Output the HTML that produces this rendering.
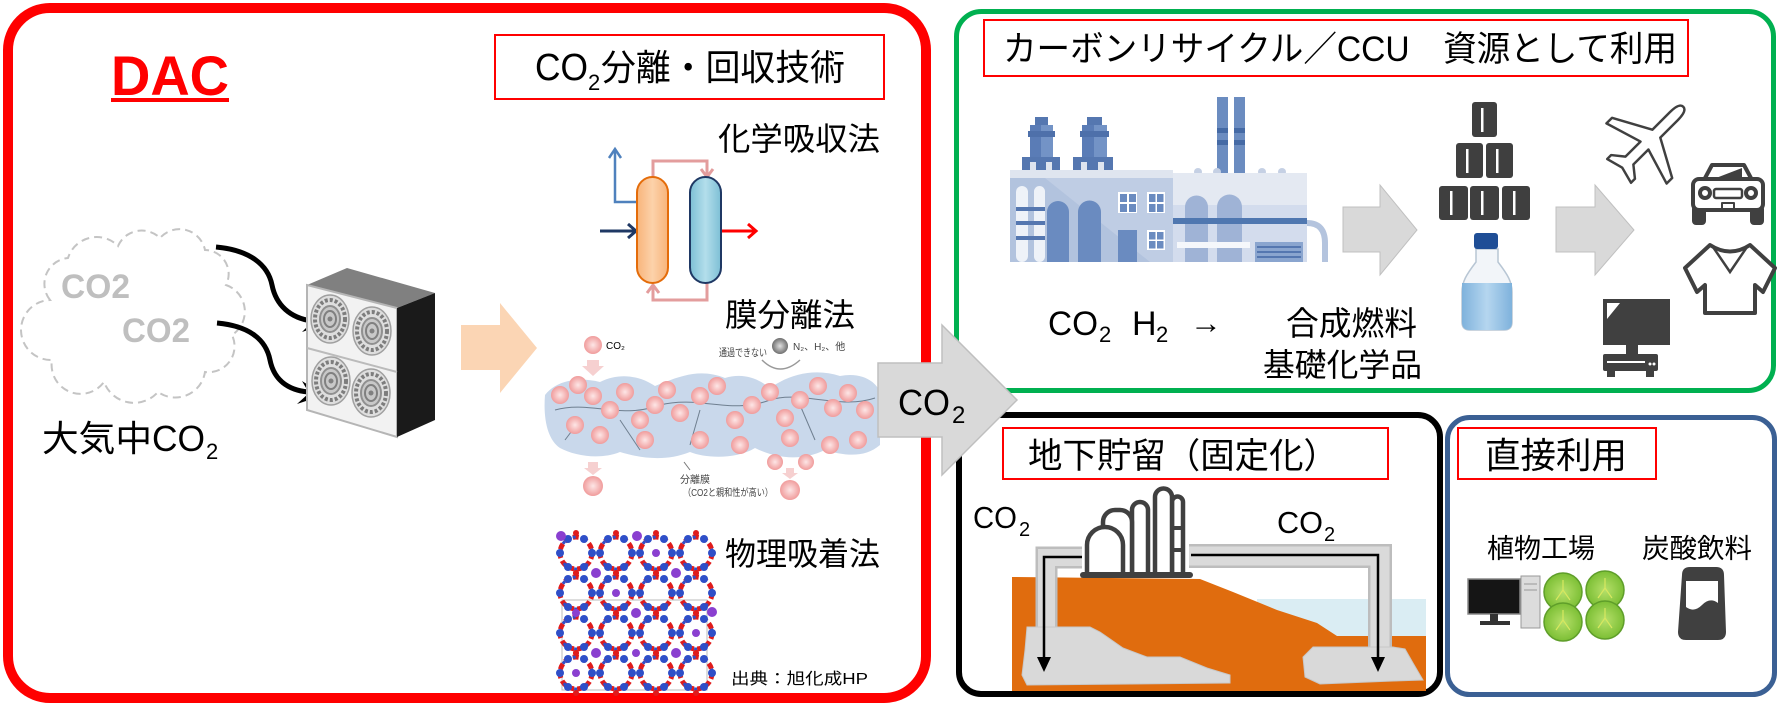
<!DOCTYPE html>
<html><head><meta charset="utf-8">
<style>
html,body{margin:0;padding:0;background:#fff;width:1791px;height:713px;overflow:hidden;}
svg{display:block;}
text{font-family:"Liberation Sans","Noto Sans CJK JP",sans-serif;fill:#000;}
</style></head><body>
<svg width="1791" height="713" viewBox="0 0 1791 713" xmlns="http://www.w3.org/2000/svg">
<defs>
 <linearGradient id="og" x1="0" x2="1"><stop offset="0" stop-color="#f8b47a"/><stop offset="0.5" stop-color="#fcd2aa"/><stop offset="1" stop-color="#f8b47a"/></linearGradient>
 <linearGradient id="bgc" x1="0" x2="1"><stop offset="0" stop-color="#7dbfd5"/><stop offset="0.5" stop-color="#b3deeb"/><stop offset="1" stop-color="#7dbfd5"/></linearGradient>
 <radialGradient id="pk"><stop offset="0" stop-color="#fde6e6"/><stop offset="1" stop-color="#f09c9c"/></radialGradient>
 <radialGradient id="gyb"><stop offset="0" stop-color="#e0e0e0"/><stop offset="1" stop-color="#6f6f6f"/></radialGradient>
 <radialGradient id="let"><stop offset="0" stop-color="#b6e06a"/><stop offset="1" stop-color="#7cbf35"/></radialGradient>
 <linearGradient id="liq" x1="0" x2="1"><stop offset="0" stop-color="#7fb2dc"/><stop offset="0.5" stop-color="#b5d6ef"/><stop offset="1" stop-color="#7fb2dc"/></linearGradient>
 <g id="fan">
  <ellipse rx="19" ry="24" fill="#dedede" stroke="#a0a0a0" stroke-width="1.5"/>
  <ellipse rx="15" ry="19" fill="none" stroke="#7d7d7d" stroke-width="4" stroke-dasharray="3 2"/>
  <ellipse rx="10" ry="13" fill="#c8c8c8" stroke="#909090" stroke-width="2"/>
  <ellipse rx="6" ry="8" fill="none" stroke="#808080" stroke-width="2"/>
  <circle r="2.5" fill="#808080"/>
 </g>
 <g id="ring">
  <circle r="16" fill="none" stroke="#e01b1b" stroke-width="5" stroke-dasharray="6 3"/>
  <circle r="16" fill="none" stroke="#2f4fc8" stroke-width="3" stroke-dasharray="3 9"/>
  <circle cx="16" cy="0" r="4" fill="#2f4fc8"/>
  <circle cx="8" cy="14" r="4" fill="#2f4fc8"/>
  <circle cx="-8" cy="14" r="4" fill="#2f4fc8"/>
  <circle cx="-16" cy="0" r="4" fill="#2f4fc8"/>
  <circle cx="-8" cy="-14" r="4" fill="#2f4fc8"/>
  <circle cx="8" cy="-14" r="4" fill="#2f4fc8"/>
  <circle cx="0" cy="-20" r="3" fill="#e01b1b"/>
  <circle cx="0" cy="20" r="3" fill="#e01b1b"/>
 </g>
</defs>

<!-- ===== DAC red box ===== -->
<rect x="8" y="8" width="918" height="690" rx="42" fill="#fff" stroke="#ff0000" stroke-width="10"/>

<text x="111" y="95" font-size="56" font-weight="bold" textLength="118" lengthAdjust="spacingAndGlyphs" style="fill:#ff0000">DAC</text>
<rect x="111" y="98" width="118" height="4" fill="#ff0000"/>

<!-- title CO2分離・回収技術 -->
<rect x="495" y="35" width="389" height="64" fill="#fff" stroke="#ff0000" stroke-width="2"/>
<text x="535" y="80" font-size="38" textLength="53" lengthAdjust="spacingAndGlyphs">CO</text>
<text x="588" y="90" font-size="22">2</text>
<text x="601" y="80" font-size="36" textLength="244" lengthAdjust="spacingAndGlyphs">分離・回収技術</text>

<!-- cloud -->
<path d="M50,300 A26 26 0 0 1 68,258 A30 30 0 0 1 118,246 A26 26 0 0 1 160,238 A26 26 0 0 1 205,250 A24 24 0 0 1 226,285 A28 28 0 0 1 232,335 A26 26 0 0 1 205,372 A30 30 0 0 1 158,392 A32 32 0 0 1 104,382 A29 29 0 0 1 52,360 A30 30 0 0 1 50,300 Z" fill="none" stroke="#c4c4c4" stroke-width="2" stroke-dasharray="8 5"/>
<text x="61" y="298" font-size="34" font-weight="bold" textLength="69" lengthAdjust="spacingAndGlyphs" style="fill:#bfbfbf">CO2</text>
<text x="122" y="342" font-size="34" font-weight="bold" textLength="68" lengthAdjust="spacingAndGlyphs" style="fill:#bfbfbf">CO2</text>

<!-- curved arrows -->
<path d="M216,247 C250,250 268,265 272,285 C276,305 290,318 312,321" fill="none" stroke="#000" stroke-width="5"/>
<polygon points="329,323 306,309 313,321 302,332" fill="#000"/>
<path d="M217,323 C250,326 266,340 270,360 C274,380 288,390 308,392" fill="none" stroke="#000" stroke-width="5"/>
<polygon points="324,395 302,381 309,393 297,404" fill="#000"/>

<!-- DAC unit -->
<polygon points="307,285 347,268 435,293 397,308" fill="#808080"/>
<polygon points="307,285 397,308 397,437 307,410" fill="#f2f2f2" stroke="#b5b5b5" stroke-width="2"/>
<polygon points="397,308 435,293 435,420 397,437" fill="#1a1a1a"/>
<line x1="307" y1="348" x2="397" y2="372" stroke="#bbb" stroke-width="2"/>
<use href="#fan" x="330" y="319"/>
<use href="#fan" x="372" y="331"/>
<use href="#fan" x="331" y="381"/>
<use href="#fan" x="371" y="393"/>

<text x="42" y="451" font-size="36" textLength="110" lengthAdjust="spacingAndGlyphs">大気中</text>
<text x="152" y="451" font-size="36" textLength="53" lengthAdjust="spacingAndGlyphs">CO</text>
<text x="206" y="459" font-size="22">2</text>

<!-- peach arrow -->
<polygon points="461,325 500,325 500,303 537,348 500,393 500,370 461,370" fill="#fbd5b4"/>

<!-- chemical absorption -->
<text x="718" y="150" font-size="32" textLength="162" lengthAdjust="spacingAndGlyphs">化学吸収法</text>
<polyline points="653,177 653,161 707,161 707,176" fill="none" stroke="#e39d9d" stroke-width="3"/>
<polyline points="701,169 707,177 713,169" fill="none" stroke="#e39d9d" stroke-width="3"/>
<polyline points="707,283 707,300 653,300 653,286" fill="none" stroke="#e39d9d" stroke-width="3"/>
<polyline points="647,293 653,285 659,293" fill="none" stroke="#e39d9d" stroke-width="3"/>
<polyline points="638,202 615,202 615,150" fill="none" stroke="#4f81bd" stroke-width="2.5"/>
<polyline points="609,158 615,149 621,158" fill="none" stroke="#4f81bd" stroke-width="2.5"/>
<line x1="600" y1="231" x2="636" y2="231" stroke="#1f3864" stroke-width="3"/>
<polyline points="628,224 636,231 628,238" fill="none" stroke="#1f3864" stroke-width="3"/>
<line x1="721" y1="231" x2="756" y2="231" stroke="#ff0000" stroke-width="3"/>
<polyline points="748,224 756,231 748,238" fill="none" stroke="#ff0000" stroke-width="3"/>
<rect x="637" y="177" width="31" height="106" rx="15.5" fill="url(#og)" stroke="#e46c0a" stroke-width="2"/>
<rect x="690" y="177" width="31" height="106" rx="15.5" fill="url(#bgc)" stroke="#1f3864" stroke-width="2"/>

<!-- membrane -->
<text x="725" y="326" font-size="32" textLength="130" lengthAdjust="spacingAndGlyphs">膜分離法</text>
<circle cx="593" cy="345" r="9" fill="url(#pk)"/>
<text x="606" y="349" font-size="10">CO₂</text>
<polygon points="587,360 599,360 599,366 604,366 593,376 582,366 587,366" fill="#f6d0d0"/>
<text x="719" y="356" font-size="10.5" textLength="48" lengthAdjust="spacingAndGlyphs" style="fill:#444">通過できない</text>
<circle cx="780" cy="346" r="8" fill="url(#gyb)"/>
<text x="793" y="350" font-size="10" style="fill:#444">N₂、H₂、他</text>
<path d="M762,360 Q780,378 800,360" fill="none" stroke="#999" stroke-width="1.5"/>
<path d="M545,395 C555,382 575,376 600,382 C620,372 640,376 655,386 C680,376 700,368 725,378 C745,372 760,380 770,388 C790,374 815,368 840,376 C860,372 875,380 880,392 L880,445 C865,458 845,456 825,450 C800,462 775,458 755,448 C735,460 705,458 690,452 C665,462 640,458 620,452 C600,460 575,456 560,448 C548,440 543,420 545,395 Z" fill="#c9d8eb"/>
<g fill="none" stroke="#6f7f90" stroke-width="1">
<path d="M555,410 C590,400 620,420 660,405"/><path d="M660,405 C700,395 730,415 770,400"/><path d="M770,400 C800,390 840,410 875,398"/>
<path d="M620,420 L640,450"/><path d="M700,410 L690,445"/><path d="M800,405 L815,440"/><path d="M580,420 L565,440"/>
</g>
<g fill="url(#pk)">
<circle cx="560" cy="395" r="9"/><circle cx="578" cy="385" r="9"/><circle cx="593" cy="396" r="9"/><circle cx="610" cy="410" r="9"/>
<circle cx="625" cy="392" r="9"/><circle cx="640" cy="420" r="9"/><circle cx="655" cy="405" r="9"/><circle cx="667" cy="390" r="9"/>
<circle cx="680" cy="413" r="9"/><circle cx="700" cy="396" r="9"/><circle cx="717" cy="386" r="9"/><circle cx="735" cy="420" r="9"/>
<circle cx="752" cy="405" r="9"/><circle cx="770" cy="392" r="9"/><circle cx="785" cy="418" r="9"/><circle cx="800" cy="400" r="9"/>
<circle cx="818" cy="386" r="9"/><circle cx="833" cy="408" r="9"/><circle cx="848" cy="393" r="9"/><circle cx="865" cy="410" r="9"/>
<circle cx="600" cy="435" r="9"/><circle cx="645" cy="440" r="9"/><circle cx="700" cy="440" r="9"/><circle cx="740" cy="445" r="9"/>
<circle cx="790" cy="438" r="9"/><circle cx="830" cy="445" r="9"/><circle cx="858" cy="440" r="9"/><circle cx="575" cy="425" r="9"/>
<circle cx="593" cy="486" r="10"/><circle cx="775" cy="462" r="8"/><circle cx="806" cy="462" r="8"/><circle cx="790" cy="490" r="10"/>
</g>
<polygon points="588,462 598,462 598,468 602,468 593,475 584,468 588,468" fill="#f6d0d0"/>
<polygon points="786,468 794,468 794,473 798,473 790,479 782,473 786,473" fill="#f6d0d0"/>
<line x1="690" y1="470" x2="684" y2="462" stroke="#777" stroke-width="1"/>
<text x="680" y="483" font-size="10" style="fill:#444">分離膜</text>
<text x="683" y="496" font-size="10" textLength="90" lengthAdjust="spacingAndGlyphs" style="fill:#444">（CO2と親和性が高い）</text>

<!-- MOF -->
<text x="725" y="565" font-size="32" textLength="155" lengthAdjust="spacingAndGlyphs">物理吸着法</text>
<rect x="562" y="600" width="145" height="90" fill="none" stroke="#bbb" stroke-width="1"/>
<use href="#ring" x="576" y="553"/><use href="#ring" x="616" y="553"/><use href="#ring" x="656" y="553"/><use href="#ring" x="696" y="553"/>
<use href="#ring" x="576" y="593"/><use href="#ring" x="616" y="593"/><use href="#ring" x="656" y="593"/><use href="#ring" x="696" y="593"/>
<use href="#ring" x="576" y="633"/><use href="#ring" x="616" y="633"/><use href="#ring" x="656" y="633"/><use href="#ring" x="696" y="633"/>
<use href="#ring" x="576" y="673"/><use href="#ring" x="616" y="673"/><use href="#ring" x="656" y="673"/><use href="#ring" x="696" y="673"/>
<g fill="#8a3fd0">
<circle cx="596" cy="573" r="5"/><circle cx="636" cy="613" r="5"/><circle cx="676" cy="573" r="5"/><circle cx="596" cy="653" r="5"/>
<circle cx="676" cy="653" r="5"/><circle cx="561" cy="536" r="5"/><circle cx="637" cy="536" r="5"/><circle cx="712" cy="612" r="5"/>
<circle cx="616" cy="593" r="4"/><circle cx="696" cy="633" r="4"/><circle cx="576" cy="673" r="4"/><circle cx="636" cy="653" r="4"/>
<circle cx="656" cy="553" r="4"/><circle cx="576" cy="613" r="4"/>
</g>
<text x="731" y="684" font-size="16" textLength="137" lengthAdjust="spacingAndGlyphs">出典：旭化成HP</text>

<!-- ===== green box ===== -->
<rect x="956.5" y="11.5" width="817" height="379" rx="25" fill="none" stroke="#00b050" stroke-width="5"/>
<rect x="984" y="20" width="704" height="56" fill="#fff" stroke="#ff0000" stroke-width="2"/>
<text x="1003" y="61" font-size="35" textLength="674" lengthAdjust="spacingAndGlyphs">カーボンリサイクル／CCU　資源として利用</text>

<!-- factory -->
<g>
<rect x="1022" y="157" width="38" height="13" fill="#5577b0"/>
<rect x="1030" y="162" width="6" height="8" fill="#dfe5ef"/><rect x="1046" y="162" width="6" height="8" fill="#dfe5ef"/>
<rect x="1030" y="125" width="23" height="32" fill="#7393c6"/><rect x="1030" y="125" width="11" height="32" fill="#5a7cb6"/>
<rect x="1028" y="131" width="27" height="6" fill="#4e70aa"/>
<rect x="1035" y="117" width="13" height="8" fill="#5577b0"/>
<rect x="1073" y="157" width="40" height="13" fill="#5577b0"/>
<rect x="1081" y="162" width="6" height="8" fill="#dfe5ef"/><rect x="1098" y="162" width="6" height="8" fill="#dfe5ef"/>
<rect x="1082" y="125" width="25" height="32" fill="#7393c6"/><rect x="1082" y="125" width="12" height="32" fill="#5a7cb6"/>
<rect x="1080" y="131" width="29" height="6" fill="#4e70aa"/>
<rect x="1087" y="117" width="15" height="8" fill="#5577b0"/>
<rect x="1217" y="97" width="11" height="76" fill="#6b8cc0"/><rect x="1234" y="97" width="11" height="76" fill="#6b8cc0"/>
<rect x="1217" y="128" width="11" height="5" fill="#456aa5"/><rect x="1234" y="128" width="11" height="5" fill="#456aa5"/>
<rect x="1217" y="140" width="11" height="5" fill="#456aa5"/><rect x="1234" y="140" width="11" height="5" fill="#456aa5"/>
<circle cx="1198" cy="172" r="4" fill="#c5d0e4"/><circle cx="1217" cy="172" r="4" fill="#c5d0e4"/><circle cx="1262" cy="172" r="4" fill="#c5d0e4"/><circle cx="1282" cy="172" r="4" fill="#c5d0e4"/>
<rect x="1173" y="173" width="134" height="89" fill="#d3dced"/>
<rect x="1173" y="173" width="134" height="32" fill="#e4e9f2"/>
<rect x="1010" y="170" width="163" height="8" fill="#dfe5ef"/>
<rect x="1010" y="178" width="163" height="84" fill="#b2c3de"/>
<polygon points="1045,178 1173,178 1173,262 1150,262" fill="#bfcde4"/>
<rect x="1016" y="186" width="12" height="76" rx="6" fill="#eef2f8"/><rect x="1034" y="186" width="11" height="76" rx="5.5" fill="#eef2f8"/>
<rect x="1016" y="207" width="29" height="4" fill="#5577b0"/><rect x="1016" y="221" width="29" height="4" fill="#5577b0"/><rect x="1016" y="236" width="29" height="4" fill="#5577b0"/>
<path d="M1047,262 V212 A11,11 0 0 1 1069,212 V262 Z" fill="#6a8bc0"/>
<path d="M1078,262 V212 A11.5,11.5 0 0 1 1101,212 V262 Z" fill="#6a8bc0"/>
<rect x="1118" y="192" width="19" height="21" fill="#fff"/><rect x="1147" y="192" width="18" height="21" fill="#fff"/><rect x="1147" y="230" width="18" height="20" fill="#fff"/>
<g fill="#6a8bc0">
<rect x="1120" y="194" width="7" height="8"/><rect x="1129" y="194" width="7" height="8"/><rect x="1120" y="204" width="7" height="8"/><rect x="1129" y="204" width="7" height="8"/>
<rect x="1149" y="194" width="6.5" height="8"/><rect x="1157" y="194" width="6.5" height="8"/><rect x="1149" y="204" width="6.5" height="8"/><rect x="1157" y="204" width="6.5" height="8"/>
<rect x="1149" y="232" width="6.5" height="7.5"/><rect x="1157" y="232" width="6.5" height="7.5"/><rect x="1149" y="241" width="6.5" height="7.5"/><rect x="1157" y="241" width="6.5" height="7.5"/>
</g>
<rect x="1118" y="230" width="19" height="32" fill="#6a8bc0"/>
<path d="M1185,262 V207 A11.5,11.5 0 0 1 1208,207 V262 Z" fill="#9fb3d6"/>
<path d="M1217,262 V207 A12.5,12.5 0 0 1 1242,207 V262 Z" fill="#9fb3d6"/>
<rect x="1173" y="218" width="134" height="6" fill="#4f77b0"/>
<rect x="1177" y="242" width="73" height="6" fill="#f5f7fb"/>
<rect x="1255" y="242" width="48" height="20" fill="#8aa5cf"/>
<g stroke="#5577b0" stroke-width="2"><line x1="1257" y1="247" x2="1301" y2="247"/><line x1="1257" y1="252" x2="1301" y2="252"/><line x1="1257" y1="257" x2="1301" y2="257"/></g>
<path d="M1307,223 Q1325,223 1325,243 V262" fill="none" stroke="#b4c4de" stroke-width="6"/>
</g>

<!-- grey arrows -->
<polygon points="1343,207 1380,207 1380,185 1417,230 1380,275 1380,252 1343,252" fill="#d9d9d9" stroke="#c0c0c0" stroke-width="1"/>
<polygon points="1556,207 1595,207 1595,185 1634,230 1595,275 1595,252 1556,252" fill="#d9d9d9" stroke="#c0c0c0" stroke-width="1"/>

<!-- barrels -->
<g fill="#3f3f3f">
<rect x="1472" y="102" width="25" height="35" rx="3"/>
<rect x="1456" y="143" width="27" height="35" rx="3"/><rect x="1486" y="143" width="27" height="35" rx="3"/>
<rect x="1439" y="186" width="29" height="34" rx="3"/><rect x="1470" y="186" width="29" height="34" rx="3"/><rect x="1502" y="186" width="28" height="34" rx="3"/>
</g>
<g fill="#fff">
<rect x="1481" y="108" width="2.5" height="24"/>
<rect x="1466" y="149" width="2.5" height="24"/><rect x="1496" y="149" width="2.5" height="24"/>
<rect x="1450" y="191" width="2.5" height="24"/><rect x="1481" y="191" width="2.5" height="24"/><rect x="1513" y="191" width="2.5" height="24"/>
</g>

<!-- bottle -->
<path d="M1476,249 L1476,262 C1466,275 1462,282 1462,292 L1462,322 Q1462,330 1470,330 L1504,330 Q1512,330 1512,322 L1512,292 C1512,282 1508,275 1498,262 L1498,249 Z" fill="#f2f5f9" stroke="#b8c6d4" stroke-width="1.5"/>
<path d="M1462,283 L1512,283 L1512,322 Q1512,330 1504,330 L1470,330 Q1462,330 1462,322 Z" fill="url(#liq)"/>
<rect x="1474" y="233" width="24" height="16" rx="3" fill="#1f4e96"/>

<!-- plane -->
<path transform="translate(1650,140) rotate(45) scale(1.12)" d="M0,-42 C4,-42 5,-36 5,-30 L5,-8 L38,10 L38,17 L5,7 L5,26 L15,34 L15,39 L0,35 L-15,39 L-15,34 L-5,26 L-5,7 L-38,17 L-38,10 L-5,-8 L-5,-30 C-5,-36 -4,-42 0,-42 Z" fill="#fff" stroke="#404040" stroke-width="2.2" stroke-linejoin="round"/>
<!-- car -->
<g stroke="#404040" stroke-width="4" fill="#fff" stroke-linejoin="round">
<rect x="1694" y="207" width="10" height="16" rx="2" fill="#404040"/><rect x="1752" y="207" width="10" height="16" rx="2" fill="#404040"/>
<path d="M1704,180 L1712,165 L1744,165 L1752,180 Z"/>
<rect x="1693" y="179" width="70" height="31" rx="6"/>
<circle cx="1705" cy="193" r="5"/><circle cx="1751" cy="193" r="5"/>
<rect x="1714" y="189" width="28" height="9" rx="2" stroke-width="2.5"/>
<rect x="1722" y="203" width="12" height="6" stroke-width="2"/>
</g>
<path d="M1716,178 L1742,168 L1742,178 Z" fill="#404040"/>
<!-- shirt -->
<path d="M1710,245 L1685,268 L1697,292 L1705,285 L1705,313 L1755,313 L1755,285 L1763,292 L1775,268 L1750,245 Q1730,258 1710,245 Z" fill="#fff" stroke="#404040" stroke-width="4" stroke-linejoin="round"/>
<path d="M1713,247 L1730,272 L1747,247" fill="none" stroke="#404040" stroke-width="2.5"/>
<!-- monitor -->
<rect x="1603" y="299" width="67" height="46" fill="#404040"/>
<polygon points="1607,303 1620,303 1607,319" fill="#fff"/>
<rect x="1626" y="345" width="12" height="9" fill="#404040"/>
<rect x="1603" y="354" width="55" height="17" rx="2" fill="#404040"/>
<rect x="1607" y="361" width="38" height="2" fill="#fff"/><circle cx="1650" cy="364" r="1.5" fill="#fff"/><circle cx="1654" cy="364" r="1.5" fill="#fff"/>
<rect x="1607" y="371" width="8" height="6" fill="#404040"/><rect x="1646" y="371" width="8" height="6" fill="#404040"/>

<text x="1048" y="335" font-size="34" textLength="50" lengthAdjust="spacingAndGlyphs">CO</text>
<text x="1099" y="342" font-size="22">2</text>
<text x="1132" y="335" font-size="34">H</text>
<text x="1156" y="342" font-size="22">2</text>
<text x="1190" y="333" font-size="30" textLength="32" lengthAdjust="spacingAndGlyphs">→</text>
<text x="1286" y="335" font-size="33" textLength="131" lengthAdjust="spacingAndGlyphs">合成燃料</text>
<text x="1263" y="376" font-size="32" textLength="159" lengthAdjust="spacingAndGlyphs">基礎化学品</text>

<!-- ===== black storage box ===== -->
<rect x="959" y="415" width="481" height="279" rx="22" fill="#fff" stroke="#000" stroke-width="6"/>
<rect x="1003" y="428" width="385" height="51" fill="#fff" stroke="#ff0000" stroke-width="2"/>
<text x="1028" y="468" font-size="35" textLength="310" lengthAdjust="spacingAndGlyphs">地下貯留（固定化）</text>

<text x="973" y="528" font-size="31" textLength="44" lengthAdjust="spacingAndGlyphs">CO</text>
<text x="1019" y="536" font-size="20">2</text>
<text x="1277" y="533" font-size="31" textLength="46" lengthAdjust="spacingAndGlyphs">CO</text>
<text x="1324" y="541" font-size="20">2</text>

<rect x="1257" y="599" width="169" height="37" fill="#daedf3"/>
<polygon points="1012,577 1200,579 1233,592 1277,610 1317,623 1337,636 1426,636 1426,691 1012,691" fill="#e06c0e"/>
<!-- pipes -->
<polyline points="1082,557.5 1046.5,557.5 1046.5,640" fill="none" stroke="#bdbdbd" stroke-width="22" stroke-linejoin="miter"/>
<polyline points="1082,557.5 1046.5,557.5 1046.5,640" fill="none" stroke="#dadada" stroke-width="17" stroke-linejoin="miter"/>
<polyline points="1189,556 1380,556 1380,650" fill="none" stroke="#bdbdbd" stroke-width="24" stroke-linejoin="miter"/>
<polyline points="1189,556 1380,556 1380,650" fill="none" stroke="#dadada" stroke-width="19" stroke-linejoin="miter"/>
<!-- reservoirs -->
<path d="M1027,627 L1090,627 L1100,632 L1123,648 L1147,657 L1180,657 L1207,668 L1230,675 L1230,683 L1027,685 L1022,675 L1025,650 Z" fill="#d9d9d9" stroke="#c8c8c8" stroke-width="1"/>
<path d="M1313,647 L1393,647 L1405,649 L1413,663 L1423,680 L1393,681 L1320,684 L1305,677 L1303,657 Z" fill="#d9d9d9" stroke="#c8c8c8" stroke-width="1"/>
<polyline points="1082,557 1044,557 1044,660" fill="none" stroke="#000" stroke-width="2.5"/>
<polygon points="1037,657 1051,657 1044,672" fill="#000"/>
<polyline points="1191,555 1378,555 1378,660" fill="none" stroke="#000" stroke-width="2.5"/>
<polygon points="1371,657 1385,657 1378,672" fill="#000"/>
<!-- tanks -->
<g fill="#fff" stroke="#404040" stroke-width="4.5">
<path d="M1172,576 V502 A5.5,5.5 0 0 1 1183,502 V576"/>
<path d="M1155,576 V497 A8.5,8.5 0 0 1 1172,497 V576"/>
<path d="M1132,576 V510 A8,8 0 0 1 1148,510 V576"/>
<path d="M1103,576 V522 A12,12 0 0 1 1115,510 H1120 A12,12 0 0 1 1132,522 V576"/>
<path d="M1087,576 V545 A18,18 0 0 1 1123,545 V576"/>
</g>
<line x1="1172" y1="528" x2="1183" y2="528" stroke="#404040" stroke-width="4"/>
<line x1="1172" y1="550" x2="1183" y2="550" stroke="#404040" stroke-width="4"/>
<rect x="1080" y="572" width="113" height="6" rx="3" fill="#404040"/>

<!-- ===== blue box ===== -->
<rect x="1447.5" y="417.5" width="327" height="277" rx="22" fill="#fff" stroke="#3b6094" stroke-width="5"/>
<rect x="1458" y="428" width="198" height="51" fill="#fff" stroke="#ff0000" stroke-width="2"/>
<text x="1485" y="468" font-size="36" textLength="142" lengthAdjust="spacingAndGlyphs">直接利用</text>
<text x="1487" y="558" font-size="27" textLength="108" lengthAdjust="spacingAndGlyphs">植物工場</text>
<text x="1642" y="558" font-size="27" textLength="110" lengthAdjust="spacingAndGlyphs">炭酸飲料</text>
<!-- computer -->
<rect x="1521" y="576" width="19" height="52" fill="#dcdcdc" stroke="#999" stroke-width="1"/>
<line x1="1524" y1="584" x2="1537" y2="584" stroke="#999"/><line x1="1524" y1="590" x2="1537" y2="590" stroke="#999"/>
<rect x="1468" y="579" width="52" height="35" fill="#151515" stroke="#888" stroke-width="1.5"/>
<rect x="1490" y="614" width="8" height="8" fill="#333"/>
<rect x="1480" y="621" width="30" height="4" fill="#333"/>
<!-- lettuce -->
<g stroke="#5f9e2a" stroke-width="1.5" fill="url(#let)">
<circle cx="1563" cy="592" r="19"/><circle cx="1605" cy="590" r="19"/>
<circle cx="1563" cy="622" r="19"/><circle cx="1605" cy="620" r="19"/>
</g>
<g stroke="#d8e860" stroke-width="1.2" fill="none">
<path d="M1556,600 L1563,590 L1570,600 M1563,590 V580"/><path d="M1598,598 L1605,588 L1612,598 M1605,588 V578"/>
<path d="M1556,630 L1563,620 L1570,630 M1563,620 V610"/><path d="M1598,628 L1605,618 L1612,628 M1605,618 V608"/>
</g>
<!-- can -->
<path d="M1682,575 Q1682,567 1690,567 L1716,567 Q1724,567 1724,575 L1726,632 Q1726,640 1718,640 L1686,640 Q1678,640 1678,632 Z" fill="#404040"/>
<path d="M1686,581 L1718,581 L1718,603 Q1710,597 1702,605 Q1694,613 1686,607 Z" fill="#fff"/>

<!-- big CO2 arrow (on top) -->
<polygon points="878,363 942,363 942,325 1017,400 942,475 942,437 878,437" fill="#d9d9d9" stroke="#bfbfbf" stroke-width="1.5"/>
<text x="898" y="415" font-size="36" textLength="52" lengthAdjust="spacingAndGlyphs">CO</text>
<text x="952" y="423" font-size="24">2</text>
</svg>
</body></html>
